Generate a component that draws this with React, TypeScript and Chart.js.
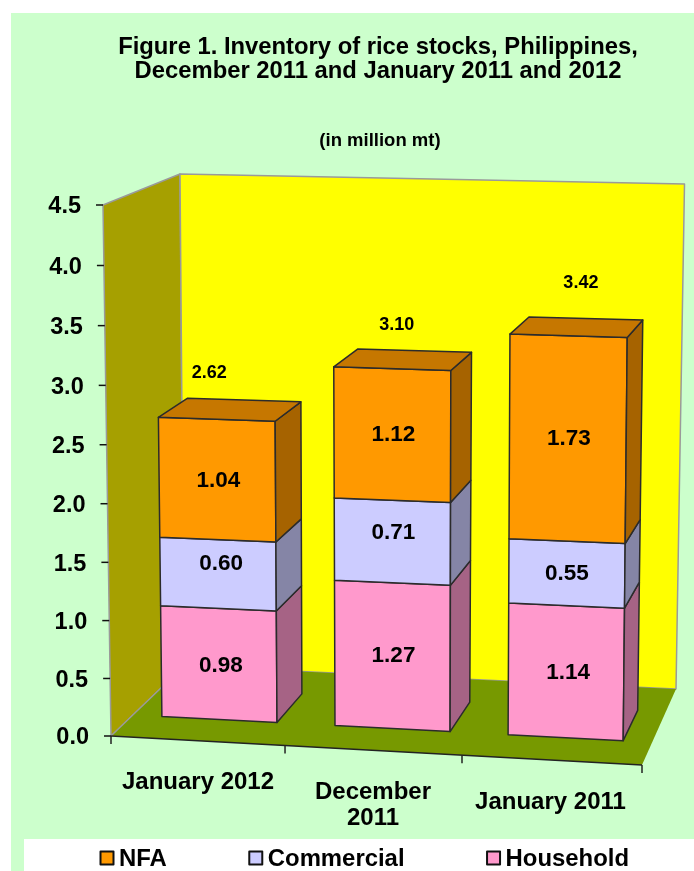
import React, { useEffect, useRef } from "react";
import { Chart, registerables } from "chart.js";

Chart.register(...registerables);

const FONT = '"Liberation Sans", Arial, sans-serif';

const categories = [["January 2012"], ["December", "2011"], ["January 2011"]];
const household = [0.98, 1.27, 1.14];
const commercial = [0.6, 0.71, 0.55];
const nfa = [1.04, 1.12, 1.73];
const totals = ["2.62", "3.10", "3.42"];
const legendOrder = ["NFA", "Commercial", "Household"];

// Room of the 3D scene: floor and ceiling corners, front/back, left/right.
const room = {
  floorFL: [111, 736],
  floorFR: [642, 765],
  floorBL: [184, 666],
  floorBR: [676, 689],
  ceilFL: [103, 205],
  ceilFR: [647, 217],
  ceilBL: [180, 174],
  ceilBR: [684.5, 184],
};
const BAR_DEPTH_NEAR = 0.3;
const BAR_DEPTH_FAR = 0.7;
const HEIGHT_WARP = 0.972;
const AXIS_TICK_WARP = 0.975;

const faceColors: Record<string, { front: string; side: string; top: string }> = {
  Household: { front: "#FF99CC", side: "#A66385", top: "#C67AA0" },
  Commercial: { front: "#CCCCFF", side: "#8585A6", top: "#A0A0C8" },
  NFA: { front: "#FF9900", side: "#A66300", top: "#C67700" },
};

// Nudges of the printed figures from the surface they describe, per stack and category.
const totalLabelShift = [
  [-35, -27],
  [-18, -26],
  [-5, -36],
];
const segmentLabelShift = [
  [[2, 2], [1, 0], [2, 1]],
  [[3, -10], [1, -9], [0, 0]],
  [[1, 1], [1, 0], [1, 0]],
];
const categoryLabelShift = [-1.5, -3.5, -3];

const lerp = (a: number[], b: number[], k: number) => [a[0] + (b[0] - a[0]) * k, a[1] + (b[1] - a[1]) * k];
const warp = (k: number, w: number) => (k * w) / (1 + (w - 1) * k);

// Maps (across, height, depth), each 0..1, into the skewed room.
function project(t: number, f: number, d: number) {
  const h = warp(f, HEIGHT_WARP);
  const floor = lerp(lerp(room.floorFL, room.floorFR, t), lerp(room.floorBL, room.floorBR, t), d);
  const ceil = lerp(lerp(room.ceilFL, room.ceilFR, t), lerp(room.ceilBL, room.ceilBR, t), d);
  return lerp(floor, ceil, h);
}

function poly(ctx: CanvasRenderingContext2D, pts: number[][], fill: string | null, stroke: string | null, lw = 1.5) {
  ctx.beginPath();
  pts.forEach((p, i) => (i ? ctx.lineTo(p[0], p[1]) : ctx.moveTo(p[0], p[1])));
  ctx.closePath();
  if (fill) {
    ctx.fillStyle = fill;
    ctx.fill();
  }
  if (stroke) {
    ctx.strokeStyle = stroke;
    ctx.lineWidth = lw;
    ctx.lineJoin = "round";
    ctx.stroke();
  }
}

function text(ctx: CanvasRenderingContext2D, s: string, x: number, y: number, size: number, align: CanvasTextAlign = "center") {
  ctx.font = `bold ${size}px ${FONT}`;
  ctx.fillStyle = "#000";
  ctx.textAlign = align;
  ctx.textBaseline = "middle";
  ctx.fillText(s, x, y);
}

const scene3d = {
  id: "scene3d",
  afterLayout(chart: any) {
    // The headings sit a little right of the plot's centre.
    for (const box of chart.boxes) {
      if (box === chart.titleBlock) box.left += 3;
      else if (box.options && box.options.text === "(in million mt)") box.left += 7;
    }
  },
  beforeDatasetsDraw(chart: any) {
    const { ctx, chartArea: area, scales } = chart;
    const W = area.right - area.left;
    const H = area.bottom - area.top;
    const tOf = (px: number) => (px - area.left) / W;
    const fOf = (py: number) => (area.bottom - py) / H;

    ctx.save();

    // Room surfaces
    poly(ctx, [project(0, 0, 0), project(0, 1, 0), project(0, 1, 1), project(0, 0, 1)], "#A6A000", "#9A9A9A");
    poly(ctx, [project(0, 0, 1), project(0, 1, 1), project(1, 1, 1), project(1, 0, 1)], "#FFFF00", "#9A9A9A");
    poly(ctx, [project(0, 0, 0), project(1, 0, 0), project(1, 0, 1), project(0, 0, 1)], "#779900", null);
    ctx.strokeStyle = "#9A9A9A";
    ctx.lineWidth = 1.2;
    ctx.beginPath();
    const fl0 = project(0, 0, 0);
    const fl1 = project(0, 0, 1);
    ctx.moveTo(fl0[0], fl0[1]);
    ctx.lineTo(fl1[0], fl1[1]);
    ctx.stroke();

    // Value axis: ticks and labels follow the front-left edge
    for (const tick of scales.y.ticks) {
      const f = fOf(scales.y.getPixelForValue(tick.value));
      const p = project(0, f, 0);
      ctx.strokeStyle = "#111";
      ctx.lineWidth = 1.5;
      ctx.beginPath();
      ctx.moveTo(p[0] - 7, p[1]);
      ctx.lineTo(p[0], p[1]);
      ctx.stroke();
      text(ctx, tick.value.toFixed(1), p[0] - 22, p[1] + 2, 23.5, "right");
    }

    // Category axis: line, ticks at category boundaries, labels under the centres
    const a0 = project(0, 0, 0);
    const a1 = project(1, 0, 0);
    ctx.strokeStyle = "#222";
    ctx.lineWidth = 1.5;
    ctx.beginPath();
    ctx.moveTo(a0[0], a0[1]);
    ctx.lineTo(a1[0], a1[1]);
    ctx.stroke();
    const n = scales.x.ticks.length;
    for (let i = 0; i <= n; i++) {
      const p = project(warp(i / n, AXIS_TICK_WARP), 0, 0);
      ctx.beginPath();
      ctx.moveTo(p[0], p[1]);
      ctx.lineTo(p[0], p[1] + 8);
      ctx.stroke();
    }
    scales.x.ticks.forEach((_: any, i: number) => {
      const p = project(tOf(scales.x.getPixelForTick(i)), 0, 0);
      const lines = chart.data.labels[i] as string[];
      lines.forEach((line, k) => text(ctx, line, p[0] + categoryLabelShift[i], p[1] + 42 + k * 26, 24));
    });

    // Stacked boxes, left to right and bottom to top
    const stacks = chart.data.datasets.length;
    chart.data.labels.forEach((_: any, i: number) => {
      let lastTop: any = null;
      for (let s = 0; s < stacks; s++) {
        const bar = chart.getDatasetMeta(s).data[i];
        const name = chart.data.datasets[s].label;
        const c = faceColors[name];
        const t0 = tOf(bar.x - bar.width / 2);
        const t1 = tOf(bar.x + bar.width / 2);
        const f0 = fOf(bar.base);
        const f1 = fOf(bar.y);
        const [n0, n1] = [BAR_DEPTH_NEAR, BAR_DEPTH_FAR];
        poly(ctx, [project(t0, f0, n0), project(t0, f1, n0), project(t1, f1, n0), project(t1, f0, n0)], c.front, "#2b2b2b");
        poly(ctx, [project(t1, f0, n0), project(t1, f1, n0), project(t1, f1, n1), project(t1, f0, n1)], c.side, "#2b2b2b");
        lastTop = { t0, t1, f1, c, n0, n1 };
      }
      if (lastTop) {
        const { t0, t1, f1, c, n0, n1 } = lastTop;
        poly(ctx, [project(t0, f1, n0), project(t1, f1, n0), project(t1, f1, n1), project(t0, f1, n1)], c.top, "#2b2b2b");
        const mid = project((t0 + t1) / 2, f1, n1);
        const [dx, dy] = totalLabelShift[i];
        text(ctx, totals[i], mid[0] + dx, mid[1] + dy, 18);
      }
      // Segment values on the front faces
      for (let s = 0; s < stacks; s++) {
        const bar = chart.getDatasetMeta(s).data[i];
        const t = tOf(bar.x);
        const f = (fOf(bar.base) + fOf(bar.y)) / 2;
        const p = project(t, f, BAR_DEPTH_NEAR);
        const [dx, dy] = segmentLabelShift[s][i];
        text(ctx, chart.data.datasets[s].data[i].toFixed(2), p[0] + dx, p[1] + dy, 22.5);
      }
    });

    // Legend on the white strip
    let x = 100.5;
    for (const name of legendOrder) {
      ctx.font = `bold 23.9px ${FONT}`;
      const w = ctx.measureText(name).width;
      ctx.fillStyle = faceColors[name].front;
      ctx.strokeStyle = "#111";
      ctx.lineWidth = 2;
      ctx.fillRect(x, 851.5, 13, 13);
      ctx.strokeRect(x, 851.5, 13, 13);
      text(ctx, name, x + 18.5, 859, 23.9, "left");
      x += 18.5 + w + 82.5;
    }

    ctx.restore();
    return false;
  },
};

export default function App() {
  const ref = useRef<HTMLCanvasElement | null>(null);

  useEffect(() => {
    document.body.style.margin = "0";
    const chart = new Chart(ref.current!, {
      type: "bar",
      data: {
        labels: categories as any,
        datasets: [
          { label: "Household", data: household, backgroundColor: faceColors.Household.front },
          { label: "Commercial", data: commercial, backgroundColor: faceColors.Commercial.front },
          { label: "NFA", data: nfa, backgroundColor: faceColors.NFA.front },
        ],
      },
      options: {
        responsive: false,
        animation: false,
        events: [],
        layout: { autoPadding: false, padding: { left: 111, right: 52, top: 35, bottom: 135 } },
        datasets: { bar: { barPercentage: 0.665, categoryPercentage: 1 } },
        scales: {
          x: { stacked: true, grid: { display: false }, border: { display: false }, ticks: { display: false } },
          y: {
            stacked: true,
            min: 0,
            max: 4.5,
            grid: { display: false },
            border: { display: false },
            ticks: { display: false, stepSize: 0.5 },
          },
        },
        plugins: {
          legend: { display: false },
          tooltip: { enabled: false },
          title: {
            display: true,
            text: ["Figure 1. Inventory of rice stocks, Philippines,", "December 2011 and January 2011 and 2012"],
            color: "#000",
            font: { family: FONT, size: 23.8, weight: "bold", lineHeight: 1.008 },
            padding: { top: 0, bottom: 46.9 },
          },
          subtitle: {
            display: true,
            text: "(in million mt)",
            color: "#000",
            font: { family: FONT, size: 18.5, weight: "bold", lineHeight: 1.2 },
            padding: { top: 0, bottom: 52.9 },
          },
        },
      },
      plugins: [scene3d],
    } as any);
    return () => chart.destroy();
  }, []);

  return (
    <div style={{ position: "relative", width: 694, height: 871, overflow: "hidden", background: "#fff" }}>
      <div style={{ position: "absolute", left: 11, top: 13, right: 0, bottom: 0, background: "#CCFFCC" }} />
      <div style={{ position: "absolute", left: 24, top: 839, right: 0, bottom: 0, background: "#fff" }} />
      <canvas ref={ref} width={694} height={871} style={{ position: "absolute", left: 0, top: 0, display: "block" }} />
    </div>
  );
}
